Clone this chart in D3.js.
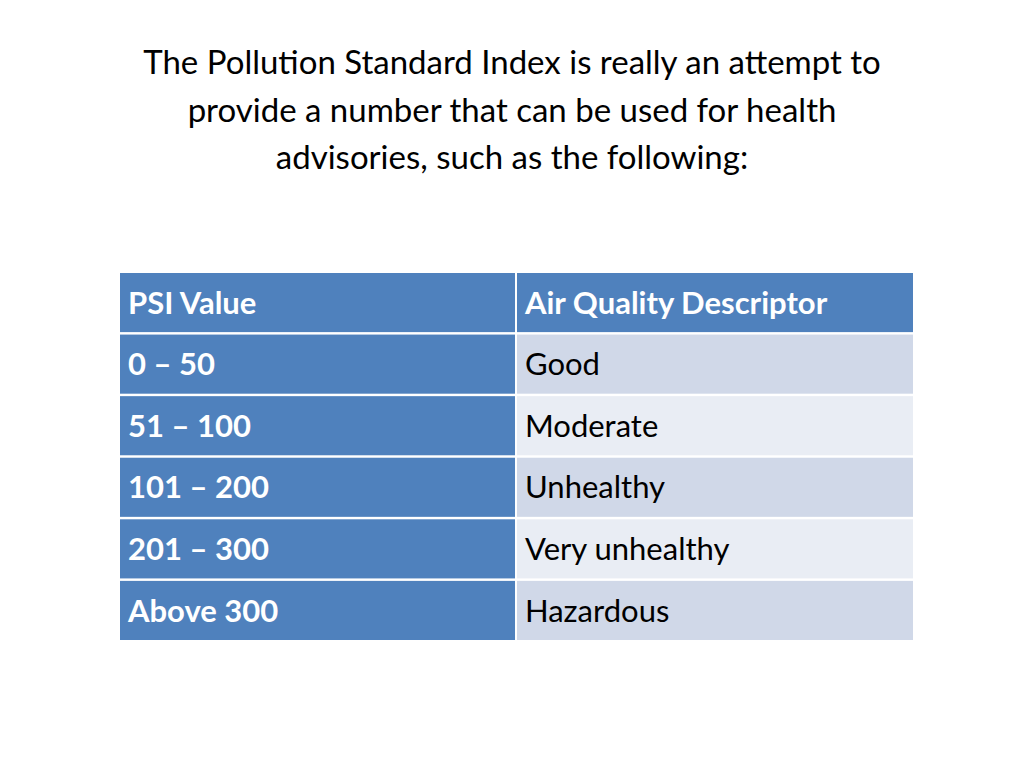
<!DOCTYPE html>
<html>
<head>
<meta charset="utf-8">
<script src="https://cdn.jsdelivr.net/npm/d3@7"></script>
<style>
  body { margin: 0; background: #fff; }
  svg { display: block; font-family: Lato, 'Open Sans', sans-serif; }
</style>
</head>
<body>
<div id="root"></div>
<script>
const titleLines = [
    'The Pollution Standard Index is really an attempt to',
    'provide a number that can be used for health',
    'advisories, such as the following:'
]
const headers = ['PSI Value', 'Air Quality Descriptor']
const psiRanges = ['0 \u2013 50', '51 \u2013 100', '101 \u2013 200', '201 \u2013 300', 'Above 300']
const descriptors = ['Good', 'Moderate', 'Unhealthy', 'Very unhealthy', 'Hazardous']

const w = 1024
const h = 768

const svg = d3.select('#root')
    .append('svg')
    .attr('width', w)
    .attr('height', h)

svg.selectAll('text.title')
    .data(titleLines)
    .enter()
    .append('text')
    .attr('class', 'title')
    .attr('x', w / 2)
    .attr('y', (d, i) => 74 + i * 47.5)
    .attr('text-anchor', 'middle')
    .attr('font-size', 33)
    .attr('fill', '#000')
    .text(d => d)

// rows: header + data
const rows = [headers].concat(psiRanges.map((p, i) => [p, descriptors[i]]))

const yScale = d3.scaleBand()
    .domain(d3.range(rows.length))
    .range([273, 640])
    .paddingInner(0.04)

const xScale = d3.scaleOrdinal()
    .domain([0, 1])
    .range([120, 517])
const colWidth = [395, 396]

const rowG = svg.selectAll('g.row')
    .data(rows)
    .enter()
    .append('g')
    .attr('class', 'row')
    .attr('transform', (d, i) => 'translate(0,' + yScale(i) + ')')

rowG.each(function (d, i) {
    const g = d3.select(this)
    d.forEach((txt, j) => {
        let fill
        if (i === 0 || j === 0) fill = '#4F81BD'
        else fill = i % 2 === 1 ? '#D0D8E8' : '#E9EDF4'
        g.append('rect')
            .attr('x', xScale(j))
            .attr('y', 0)
            .attr('width', colWidth[j])
            .attr('height', yScale.bandwidth())
            .attr('fill', fill)
        g.append('text')
            .attr('x', xScale(j) + 8)
            .attr('y', yScale.bandwidth() / 2)
            .attr('dy', '0.36em')
            .attr('font-size', 31)
            .attr('font-weight', (i === 0 || j === 0) ? 'bold' : 'normal')
            .attr('fill', (i === 0 || j === 0) ? '#fff' : '#000')
            .text(txt)
    })
})
</script>
</body>
</html>
